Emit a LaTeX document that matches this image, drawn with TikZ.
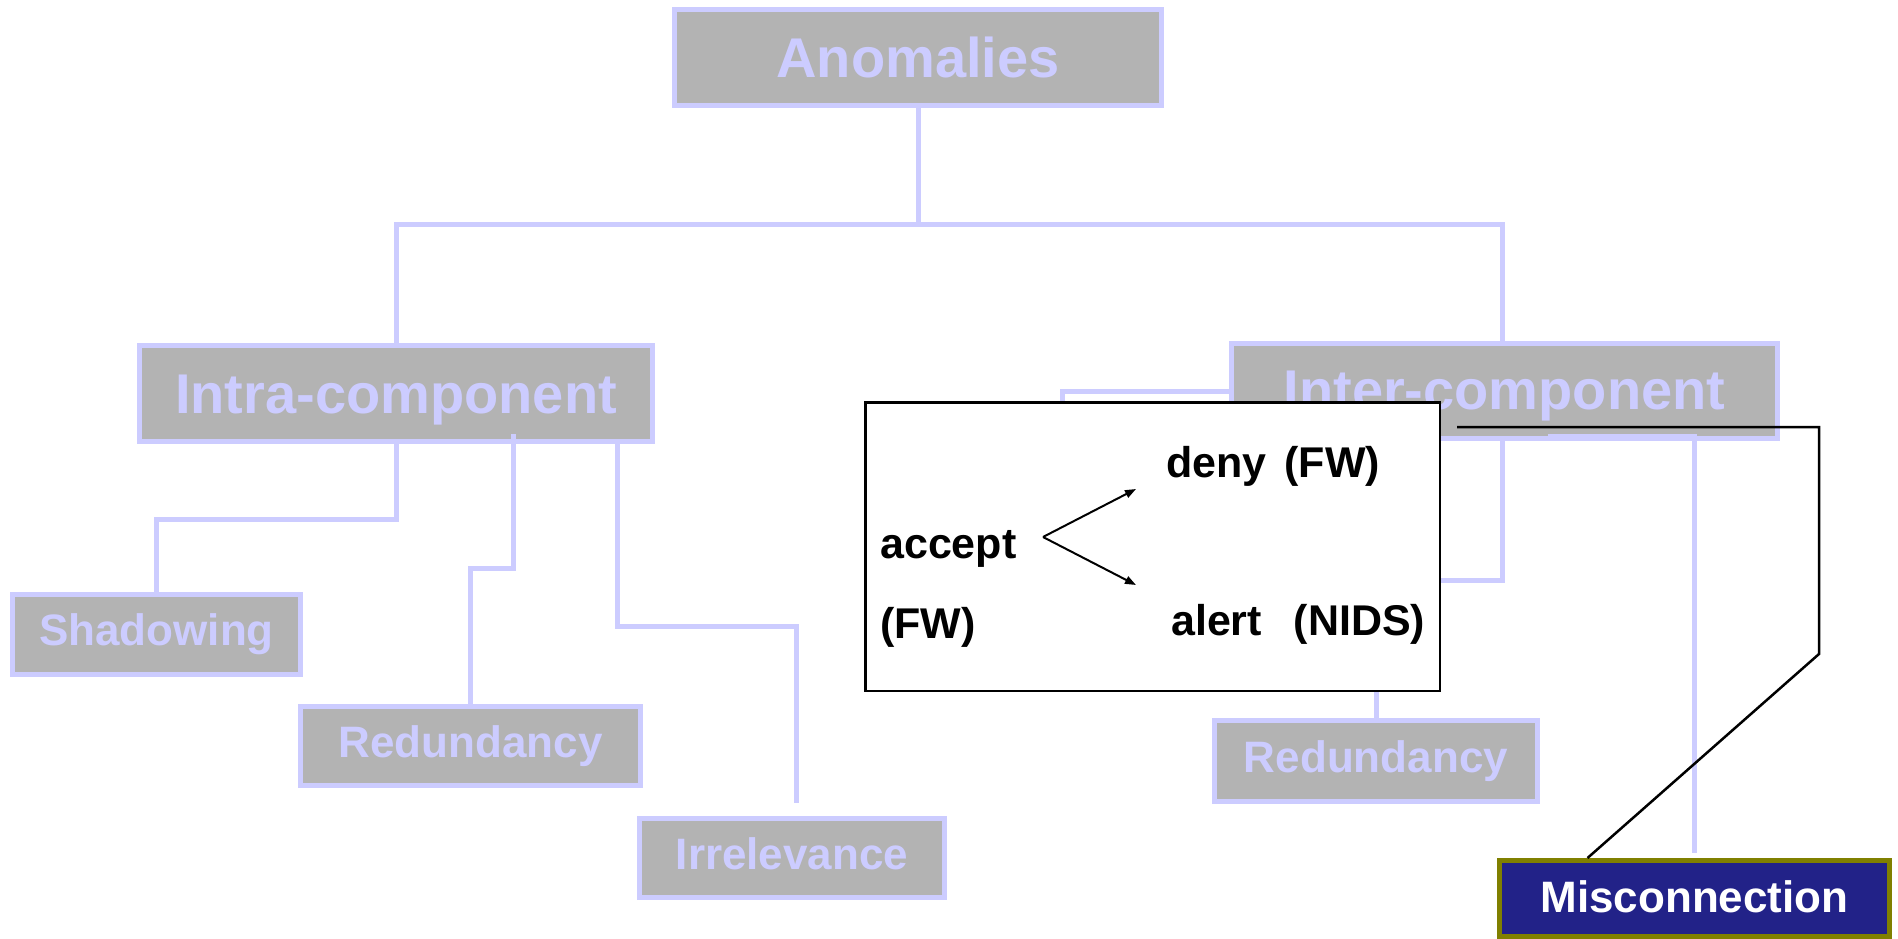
\documentclass[tikz,border=0pt]{standalone}
\usepackage{fontspec}
\setmainfont{Liberation Sans}
\usetikzlibrary{arrows.meta}
\definecolor{lav}{HTML}{CCCCFF}
\definecolor{boxgray}{HTML}{B3B3B3}
\definecolor{navyfill}{HTML}{222288}
\definecolor{olivebd}{HTML}{808000}
\begin{document}
\begin{tikzpicture}[x=1pt,y=-1pt,
  catbox/.style={draw=lav, line width=5pt, fill=boxgray, text=lav, inner sep=0pt,
    font=\bfseries\fontsize{56}{60}\selectfont, text height=40pt, text depth=0pt},
  leafbox/.style={draw=lav, line width=5pt, fill=boxgray, text=lav, inner sep=0pt,
    font=\bfseries\fontsize{44}{48}\selectfont, text height=31.5pt, text depth=9pt},
  conn/.style={draw=lav, line width=5pt},
  notebox/.style={draw=black, line width=2.5pt, fill=white, inner sep=0pt},
  notetext/.style={anchor=base west, inner sep=0pt, font=\bfseries\fontsize{43}{46}\selectfont},
  flow/.style={line width=2pt, -{Triangle[length=11pt,width=8pt]}},
  callout/.style={draw=black, line width=2.5pt, line join=miter}
]
\useasboundingbox (0,0) rectangle (1898,939);

% category boxes
\node[catbox, minimum width=487pt, minimum height=96pt] (anom) at (918,57.5) {Anomalies};
\node[catbox, minimum width=513pt, minimum height=96pt] (intra) at (396,393.5) {Intra-component};
\node[catbox, minimum width=546pt, minimum height=95pt, text depth=3pt] (inter) at (1504.5,391) {Inter-component};

% leaf boxes
\node[leafbox, minimum width=288pt, minimum height=80pt] (shad) at (156.5,634.5) {Shadowing};
\node[leafbox, minimum width=340pt, minimum height=79pt] (redl) at (470.5,746) {Redundancy};
\node[leafbox, minimum width=305pt, minimum height=79pt] (irr) at (792,858) {Irrelevance};
\node[leafbox, minimum width=323pt, minimum height=81pt] (redr) at (1376,761) {Redundancy};
\node[leafbox, draw=olivebd, fill=navyfill, text=white, text depth=4pt,
      minimum width=390pt, minimum height=76pt] (mis) at (1694.5,898.5) {Misconnection};

% tree connectors
\coordinate (bus) at (918,224.5);
\draw[conn] (anom.south) -- (bus);
\draw[conn] (intra.north) |- (bus) -| ([xshift=-1.8pt]inter.north);

\draw[conn] (intra.south) -- ++(0,75.5) -| (shad.north);
\draw[conn] ([xshift=117pt,yshift=10pt]intra.south) -- ++(0,134.5) -| (redl.north);
\draw[conn] ([xshift=221.7pt]intra.south) -- ++(0,182.5) -| ([xshift=4pt,yshift=13.5pt]irr.north);

\draw[conn] (inter.west) -| (1062,460);
\draw[conn] (redr.north |- inter.south) -- (redr.north);
\draw[conn] ([xshift=-1.8pt]inter.south) -- ++(0,139.5) -- ++(-100,0);
\draw[conn] ([xshift=43.5pt,yshift=4.5pt]inter.south) -| ([yshift=5.5pt]mis.north);

% note about the firewall / NIDS conflict
\node[notebox, minimum width=574.5pt, minimum height=288.5pt] (note) at (1152.5,546.5) {};
\node[notetext] (acc) at (880,558) {accept};
\node[notetext] (accfw) at (880,638) {(FW)};
\node[notetext] (deny) at (1166,477) {deny\hspace{0.42em}(FW)};
\node[notetext] (alert) at (1171,635) {alert\hspace{0.74em}(NIDS)};

\coordinate (fork) at (1043,537);
\coordinate (to-deny) at (1136,489);
\coordinate (to-alert) at (1136,585);
\draw[flow] (fork) -- (to-deny);
\draw[flow] (fork) -- (to-alert);

% pointer from the note to the misconnection leaf
\coordinate (co) at (1457,427);
\draw[callout] (co) -- ++(362,0) -- ++(0,227) -- ([xshift=90.5pt]mis.north west);
\end{tikzpicture}
\end{document}
